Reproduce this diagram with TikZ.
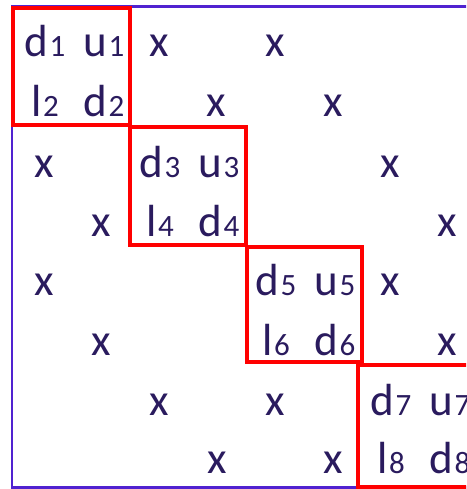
\documentclass[tikz,border=0pt]{standalone}
\usepackage{fontspec}
\setmainfont{Carlito}
\definecolor{framepurple}{HTML}{5022D0}
\definecolor{boxred}{HTML}{FF0000}
\definecolor{inknavy}{HTML}{2A1B5E}
\newcommand\sbs[1]{\kern1.5pt{\fontsize{31}{31}\selectfont #1}}
\begin{document}
\begin{tikzpicture}[x=1pt,y=-1pt,
  cell/.style={anchor=base,inner sep=0pt,text=inknavy,font=\fontsize{45}{45}\selectfont},
  outerframe/.style={draw=framepurple,line width=2.5pt},
  blockbox/.style={draw=boxred,line width=4pt}]
\useasboundingbox (0,0) rectangle (466,489);
\clip (0,0) rectangle (466,489);
\fill[white] (0,0) rectangle (466,489);
\draw[outerframe] (12,6.5) rectangle (475,487.5);
% row 1
\node[cell] (r1c1) at (45,57) {d\sbs{1}};
\node[cell] (r1c2) at (104,57) {u\sbs{1}};
\node[cell] (r1c3) at (159,57) {x};
\node[cell] (r1c5) at (275,57) {x};
% row 2
\node[cell] (r2c1) at (45,117) {l\sbs{2}};
\node[cell] (r2c2) at (104,117) {d\sbs{2}};
\node[cell] (r2c4) at (216,117) {x};
\node[cell] (r2c6) at (333,117) {x};
% row 3
\node[cell] (r3c1) at (44,177) {x};
\node[cell] (r3c3) at (160,177) {d\sbs{3}};
\node[cell] (r3c4) at (219,177) {u\sbs{3}};
\node[cell] (r3c7) at (390,177) {x};
% row 4
\node[cell] (r4c2) at (101,236) {x};
\node[cell] (r4c3) at (160,236) {l\sbs{4}};
\node[cell] (r4c4) at (219,236) {d\sbs{4}};
\node[cell] (r4c8) at (447,236) {x};
% row 5
\node[cell] (r5c1) at (44,295) {x};
\node[cell] (r5c5) at (276,295) {d\sbs{5}};
\node[cell] (r5c6) at (335,295) {u\sbs{5}};
\node[cell] (r5c7) at (390,295) {x};
% row 6
\node[cell] (r6c2) at (101,355) {x};
\node[cell] (r6c5) at (276,355) {l\sbs{6}};
\node[cell] (r6c6) at (335,355) {d\sbs{6}};
\node[cell] (r6c8) at (447,355) {x};
% row 7
\node[cell] (r7c3) at (159,415) {x};
\node[cell] (r7c5) at (275,415) {x};
\node[cell] (r7c7) at (391,415) {d\sbs{7}};
\node[cell] (r7c8) at (450,415) {u\sbs{7}};
% row 8
\node[cell] (r8c4) at (217,473) {x};
\node[cell] (r8c6) at (333,473) {x};
\node[cell] (r8c7) at (391,473) {l\sbs{8}};
\node[cell] (r8c8) at (450,473) {d\sbs{8}};
% diagonal blocks
\draw[blockbox] (13,8) rectangle (130,125);
\draw[blockbox] (130,127) rectangle (246,245);
\draw[blockbox] (247,247) rectangle (362,362);
\draw[blockbox] (358,365) rectangle (480,487);
\end{tikzpicture}
\end{document}
